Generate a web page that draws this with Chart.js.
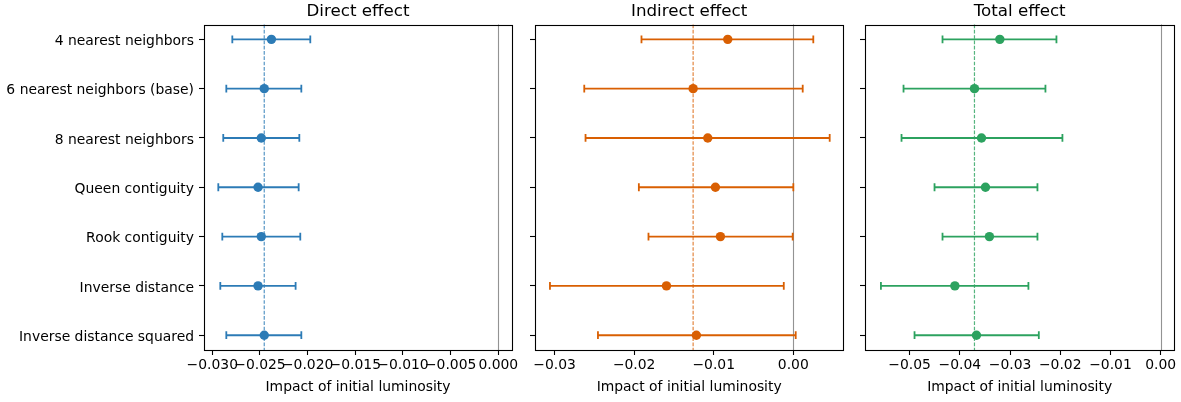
<!DOCTYPE html>
<html><head><meta charset="utf-8">
<script src="https://cdn.jsdelivr.net/npm/chart.js@4.4.1/dist/chart.umd.min.js"></script>
<style>
html,body{margin:0;padding:0;background:#fff;}
#wrap{position:relative;width:1181px;height:402px;overflow:hidden;}
#wrap canvas{position:absolute;left:0;top:0;}
</style></head><body>
<div id="wrap">
<canvas id="c1" width="1181" height="402"></canvas>
<canvas id="c2" width="1181" height="402"></canvas>
<canvas id="c3" width="1181" height="402"></canvas>
</div>
<script>
// ---------- data ----------
const specLabels = ['4 nearest neighbors','6 nearest neighbors (base)','8 nearest neighbors','Queen contiguity','Rook contiguity','Inverse distance','Inverse distance squared'];

const directEst = [-0.0238, -0.02455, -0.02486, -0.0252, -0.02486, -0.0252, -0.02455];
const directLo  = [-0.0279, -0.02853, -0.02885, -0.02937, -0.02895, -0.02916, -0.02853];
const directHi  = [-0.01972, -0.02066, -0.02087, -0.02094, -0.02077, -0.02126, -0.02066];

const indirectEst = [-0.00824, -0.01259, -0.01075, -0.00979, -0.00916, -0.01594, -0.01218];
const indirectLo  = [-0.01908, -0.02627, -0.02611, -0.01941, -0.0182, -0.03058, -0.02455];
const indirectHi  = [0.00251, 0.00118, 0.00457, 0.0, -0.00008, -0.0012, 0.0003];

const totalEst = [-0.03203, -0.03708, -0.03568, -0.03489, -0.0341, -0.04098, -0.03668];
const totalLo  = [-0.04344, -0.0512, -0.0516, -0.04503, -0.04344, -0.0557, -0.04901];
const totalHi  = [-0.02076, -0.02295, -0.01957, -0.02454, -0.02454, -0.02634, -0.02427];

const directRef = -0.02455, indirectRef = -0.01259, totalRef = -0.03708;
const zeroLine = 0;

const directTicks = [-0.030,-0.025,-0.020,-0.015,-0.010,-0.005,0.000];
const indirectTicks = [-0.03,-0.02,-0.01,0.00];
const totalTicks = [-0.05,-0.04,-0.03,-0.02,-0.01,0.00];

const directRange = [-0.03087, 0.00144];
const indirectRange = [-0.03246, 0.00628];
const totalRange = [-0.05887, 0.0027];
const rowRange = [-0.3, 6.3];

const panelTitles = ['Direct effect','Indirect effect','Total effect'];
const xTitle = 'Impact of initial luminosity';

// ---------- rendering ----------
const FONT = 'DejaVu Sans';
const tickFont = {family: FONT, size: 13.9};
const rowIndex = specLabels.map((_, i) => i);

const panelPlugin = {
  id: 'panelDeco',
  beforeDatasetsDraw(chart, args, o) {
    const {ctx, chartArea: {top, bottom}, scales: {x}} = chart;
    ctx.save();
    const zx = Math.round(x.getPixelForValue(o.zero)) + 0.5;
    ctx.strokeStyle = 'rgba(128,128,128,0.85)';
    ctx.lineWidth = 1.1;
    ctx.beginPath(); ctx.moveTo(zx, top); ctx.lineTo(zx, bottom); ctx.stroke();
    const rx = x.getPixelForValue(o.ref);
    ctx.strokeStyle = o.refColor;
    ctx.lineWidth = 1.2;
    ctx.setLineDash([3.7, 1.6]);
    ctx.beginPath(); ctx.moveTo(rx, top); ctx.lineTo(rx, bottom); ctx.stroke();
    ctx.restore();
  },
  afterDraw(chart) {
    const {ctx, chartArea: {left, right, top, bottom}} = chart;
    ctx.save();
    ctx.strokeStyle = '#000';
    ctx.lineWidth = 1.1;
    ctx.strokeRect(Math.round(left) + 0.5, Math.round(top) + 0.5, Math.round(right - left), Math.round(bottom - top));
    ctx.restore();
  }
};

function fmtTick(v, dec) {
  const s = Math.abs(v).toFixed(dec);
  return (v < 0 ? '\u2212' : '') + s;
}

function makeChart(id, p) {
  const points = {
    type: 'scatter',
    data: p.est.map((v, i) => ({x: v, y: rowIndex[i]})),
    pointRadius: 4.7, pointHoverRadius: 4.7,
    backgroundColor: p.color, borderColor: p.color, pointBorderWidth: 0,
  };
  const caps = {
    type: 'scatter',
    data: p.lo.map((v, i) => ({x: v, y: rowIndex[i]})).concat(p.hi.map((v, i) => ({x: v, y: rowIndex[i]}))),
    pointStyle: 'line', rotation: 90, pointRadius: 3.9, pointHoverRadius: 3.9,
    borderColor: p.color, pointBorderColor: p.color, pointBorderWidth: 1.8,
  };
  const bars = p.lo.map((v, i) => ({
    type: 'scatter',
    data: [{x: v, y: rowIndex[i]}, {x: p.hi[i], y: rowIndex[i]}],
    showLine: true, borderColor: p.color, borderWidth: 1.9,
    pointRadius: 0, pointHoverRadius: 0,
  }));
  return new Chart(document.getElementById(id), {
    type: 'scatter',
    data: {datasets: [points, caps, ...bars]},
    plugins: [panelPlugin],
    options: {
      responsive: false, animation: false, devicePixelRatio: 1, events: [],
      layout: {padding: {left: p.padLeft, right: p.padRight, top: 0, bottom: 0}},
      plugins: {
        legend: {display: false}, tooltip: {enabled: false},
        title: {display: true, text: p.title, fullSize: false, color: '#000',
                font: {family: FONT, size: 16.7, weight: 'normal'}, padding: {top: 2, bottom: 2.5}},
        panelDeco: {ref: p.ref, refColor: p.refColor, zero: zeroLine}
      },
      scales: {
        x: {
          type: 'linear', min: p.range[0], max: p.range[1],
          afterBuildTicks: s => { s.ticks = p.ticks.map(v => ({value: v})); },
          afterFit: s => { s.height = 52; },
          ticks: {callback: v => fmtTick(v, p.dec), font: tickFont, color: '#000', padding: 2, maxRotation: 0, autoSkip: false},
          grid: {drawOnChartArea: false, drawTicks: true, tickLength: 5, tickColor: '#000', tickWidth: 1.1},
          border: {display: false},
          title: {display: true, text: xTitle, color: '#000', font: tickFont, padding: {top: 0, bottom: 6}}
        },
        y: {
          type: 'linear', reverse: true, min: rowRange[0], max: rowRange[1],
          afterBuildTicks: s => { s.ticks = rowIndex.map(v => ({value: v})); },
          afterFit: s => { s.width = p.yWidth; },
          ticks: {callback: v => p.showLabels ? specLabels[v] : '', font: tickFont, color: '#000', padding: 5, autoSkip: false, labelOffset: 2},
          grid: {drawOnChartArea: false, drawTicks: true, tickLength: 5, tickColor: '#000', tickWidth: 1.1},
          border: {display: false}
        }
      }
    }
  });
}

makeChart('c1', {title: panelTitles[0], est: directEst, lo: directLo, hi: directHi, ref: directRef,
  color: '#2c7bb6', refColor: 'rgba(44,123,182,0.8)', range: directRange, ticks: directTicks, dec: 3,
  padLeft: 0, yWidth: 204, padRight: 1181 - 512, showLabels: true});
makeChart('c2', {title: panelTitles[1], est: indirectEst, lo: indirectLo, hi: indirectHi, ref: indirectRef,
  color: '#d95f02', refColor: 'rgba(217,95,2,0.75)', range: indirectRange, ticks: indirectTicks, dec: 2,
  padLeft: 530, yWidth: 5, padRight: 1181 - 843.3, showLabels: false});
makeChart('c3', {title: panelTitles[2], est: totalEst, lo: totalLo, hi: totalHi, ref: totalRef,
  color: '#2ca25f', refColor: 'rgba(44,162,95,0.8)', range: totalRange, ticks: totalTicks, dec: 2,
  padLeft: 860, yWidth: 5, padRight: 1181 - 1174.3, showLabels: false});
</script>
</body></html>
